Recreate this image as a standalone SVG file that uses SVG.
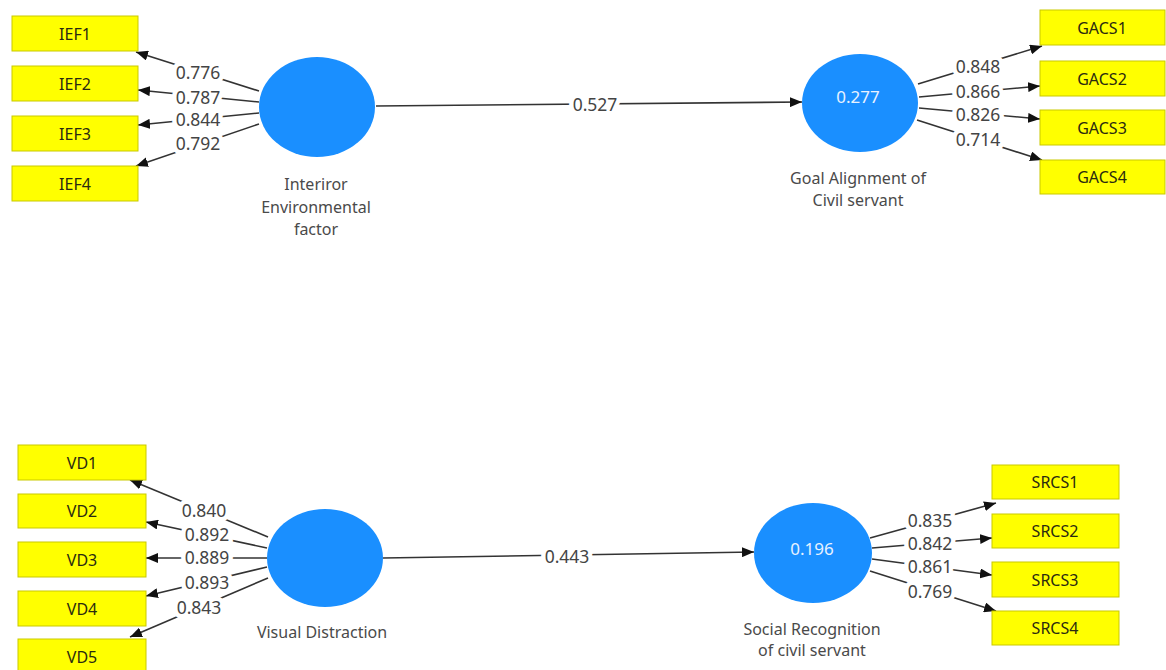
<svg xmlns="http://www.w3.org/2000/svg" width="1166" height="670" viewBox="0 0 1166 670">
<defs>
<marker id="arr" viewBox="0 0 12 10" refX="12" refY="5" markerWidth="12" markerHeight="10" markerUnits="userSpaceOnUse" orient="auto">
<path d="M0,0 L12,5 L0,10 z" fill="#111"/>
</marker>
</defs>
<style>
.box{fill:#ffff00;stroke:#c9c900;stroke-width:1}
.bt{font-family:"Noto Sans","Liberation Sans",sans-serif;font-size:16px;fill:#2a2a10;text-anchor:middle;dominant-baseline:central}
.lv{fill:#1a8fff}
.lt{font-family:"Noto Sans","Liberation Sans",sans-serif;font-size:16px;fill:#4a4a4a;text-anchor:middle}
.r2{font-family:"Noto Sans","Liberation Sans",sans-serif;font-size:17px;fill:#e8f2ff;text-anchor:middle;dominant-baseline:central}
.ln{stroke:#333;stroke-width:1.6;fill:none;marker-end:url(#arr)}
.wl{font-family:"Noto Sans","Liberation Sans",sans-serif;font-size:17.5px;fill:#444;text-anchor:middle;dominant-baseline:central;stroke:#fff;stroke-width:9;stroke-linejoin:round;paint-order:stroke}
</style>
<rect width="1166" height="670" fill="#fff"/>
<g id="connectors">
<line class="ln" x1="259" y1="91" x2="136" y2="52"/>
<line class="ln" x1="259" y1="102" x2="138" y2="90"/>
<line class="ln" x1="259" y1="113" x2="138" y2="125"/>
<line class="ln" x1="259" y1="124" x2="136" y2="166"/>
<line class="ln" x1="376" y1="106" x2="802" y2="102"/>
<line class="ln" x1="918" y1="84" x2="1042" y2="46"/>
<line class="ln" x1="919" y1="97" x2="1040" y2="86"/>
<line class="ln" x1="919" y1="108" x2="1040" y2="119"/>
<line class="ln" x1="917" y1="120" x2="1042" y2="160"/>
<line class="ln" x1="268" y1="537" x2="130" y2="480"/>
<line class="ln" x1="267" y1="548" x2="146" y2="522"/>
<line class="ln" x1="267" y1="558" x2="146" y2="558"/>
<line class="ln" x1="267" y1="567" x2="146" y2="596"/>
<line class="ln" x1="268" y1="578" x2="130" y2="637"/>
<line class="ln" x1="383" y1="558" x2="754" y2="552"/>
<line class="ln" x1="870" y1="538" x2="996" y2="503"/>
<line class="ln" x1="872" y1="548" x2="992" y2="538"/>
<line class="ln" x1="872" y1="559" x2="992" y2="575"/>
<line class="ln" x1="870" y1="571" x2="996" y2="611"/>
<text class="wl" x="198" y="72">0.776</text>
<text class="wl" x="198" y="97">0.787</text>
<text class="wl" x="198" y="119">0.844</text>
<text class="wl" x="198" y="143">0.792</text>
<text class="wl" x="595" y="104">0.527</text>
<text class="wl" x="978" y="66">0.848</text>
<text class="wl" x="978" y="91">0.866</text>
<text class="wl" x="978" y="114">0.826</text>
<text class="wl" x="978" y="139">0.714</text>
<text class="wl" x="204" y="510">0.840</text>
<text class="wl" x="207" y="534">0.892</text>
<text class="wl" x="207" y="557">0.889</text>
<text class="wl" x="207" y="582">0.893</text>
<text class="wl" x="199" y="607">0.843</text>
<text class="wl" x="567" y="556">0.443</text>
<text class="wl" x="930" y="520">0.835</text>
<text class="wl" x="930" y="543">0.842</text>
<text class="wl" x="930" y="566">0.861</text>
<text class="wl" x="930" y="591">0.769</text>
</g>
<g id="IEF1"><rect class="box" x="12" y="16" width="126" height="35"/><text class="bt" x="75" y="34">IEF1</text></g>
<g id="IEF2"><rect class="box" x="12" y="66" width="126" height="35"/><text class="bt" x="75" y="84">IEF2</text></g>
<g id="IEF3"><rect class="box" x="12" y="116" width="126" height="35"/><text class="bt" x="75" y="134">IEF3</text></g>
<g id="IEF4"><rect class="box" x="12" y="166" width="126" height="35"/><text class="bt" x="75" y="184">IEF4</text></g>
<g id="IEF"><ellipse class="lv" cx="317" cy="107" rx="58" ry="50"/>
<text class="lt" x="316" y="190">Interiror</text><text class="lt" x="316" y="213">Environmental</text><text class="lt" x="316" y="235">factor</text></g>
<g id="GACS"><ellipse class="lv" cx="860" cy="103" rx="58" ry="49"/><text class="r2" x="858" y="96">0.277</text>
<text class="lt" x="858" y="184">Goal Alignment of</text><text class="lt" x="858" y="206">Civil servant</text></g>
<g id="GACS1"><rect class="box" x="1040" y="10" width="125" height="35"/><text class="bt" x="1102" y="28">GACS1</text></g>
<g id="GACS2"><rect class="box" x="1040" y="61" width="125" height="35"/><text class="bt" x="1102" y="79">GACS2</text></g>
<g id="GACS3"><rect class="box" x="1040" y="110" width="125" height="35"/><text class="bt" x="1102" y="128">GACS3</text></g>
<g id="GACS4"><rect class="box" x="1040" y="160" width="125" height="34"/><text class="bt" x="1102" y="177">GACS4</text></g>
<g id="VD1"><rect class="box" x="18" y="445" width="128" height="35"/><text class="bt" x="82" y="463">VD1</text></g>
<g id="VD2"><rect class="box" x="18" y="494" width="128" height="34"/><text class="bt" x="82" y="511">VD2</text></g>
<g id="VD3"><rect class="box" x="18" y="542" width="128" height="35"/><text class="bt" x="82" y="560">VD3</text></g>
<g id="VD4"><rect class="box" x="18" y="591" width="128" height="35"/><text class="bt" x="82" y="609">VD4</text></g>
<g id="VD5"><rect class="box" x="18" y="639" width="128" height="35"/><text class="bt" x="82" y="657">VD5</text></g>
<g id="VD"><ellipse class="lv" cx="325" cy="558" rx="58" ry="49"/>
<text class="lt" x="322" y="638">Visual Distraction</text></g>
<g id="SRCS"><ellipse class="lv" cx="813" cy="553" rx="59" ry="50"/><text class="r2" x="812" y="548">0.196</text>
<text class="lt" x="812" y="635">Social Recognition</text><text class="lt" x="812" y="656">of civil servant</text></g>
<g id="SRCS1"><rect class="box" x="992" y="465" width="127" height="34"/><text class="bt" x="1055" y="482">SRCS1</text></g>
<g id="SRCS2"><rect class="box" x="992" y="514" width="127" height="34"/><text class="bt" x="1055" y="531">SRCS2</text></g>
<g id="SRCS3"><rect class="box" x="992" y="562" width="127" height="35"/><text class="bt" x="1055" y="580">SRCS3</text></g>
<g id="SRCS4"><rect class="box" x="992" y="611" width="127" height="34"/><text class="bt" x="1055" y="628">SRCS4</text></g>
</svg>
